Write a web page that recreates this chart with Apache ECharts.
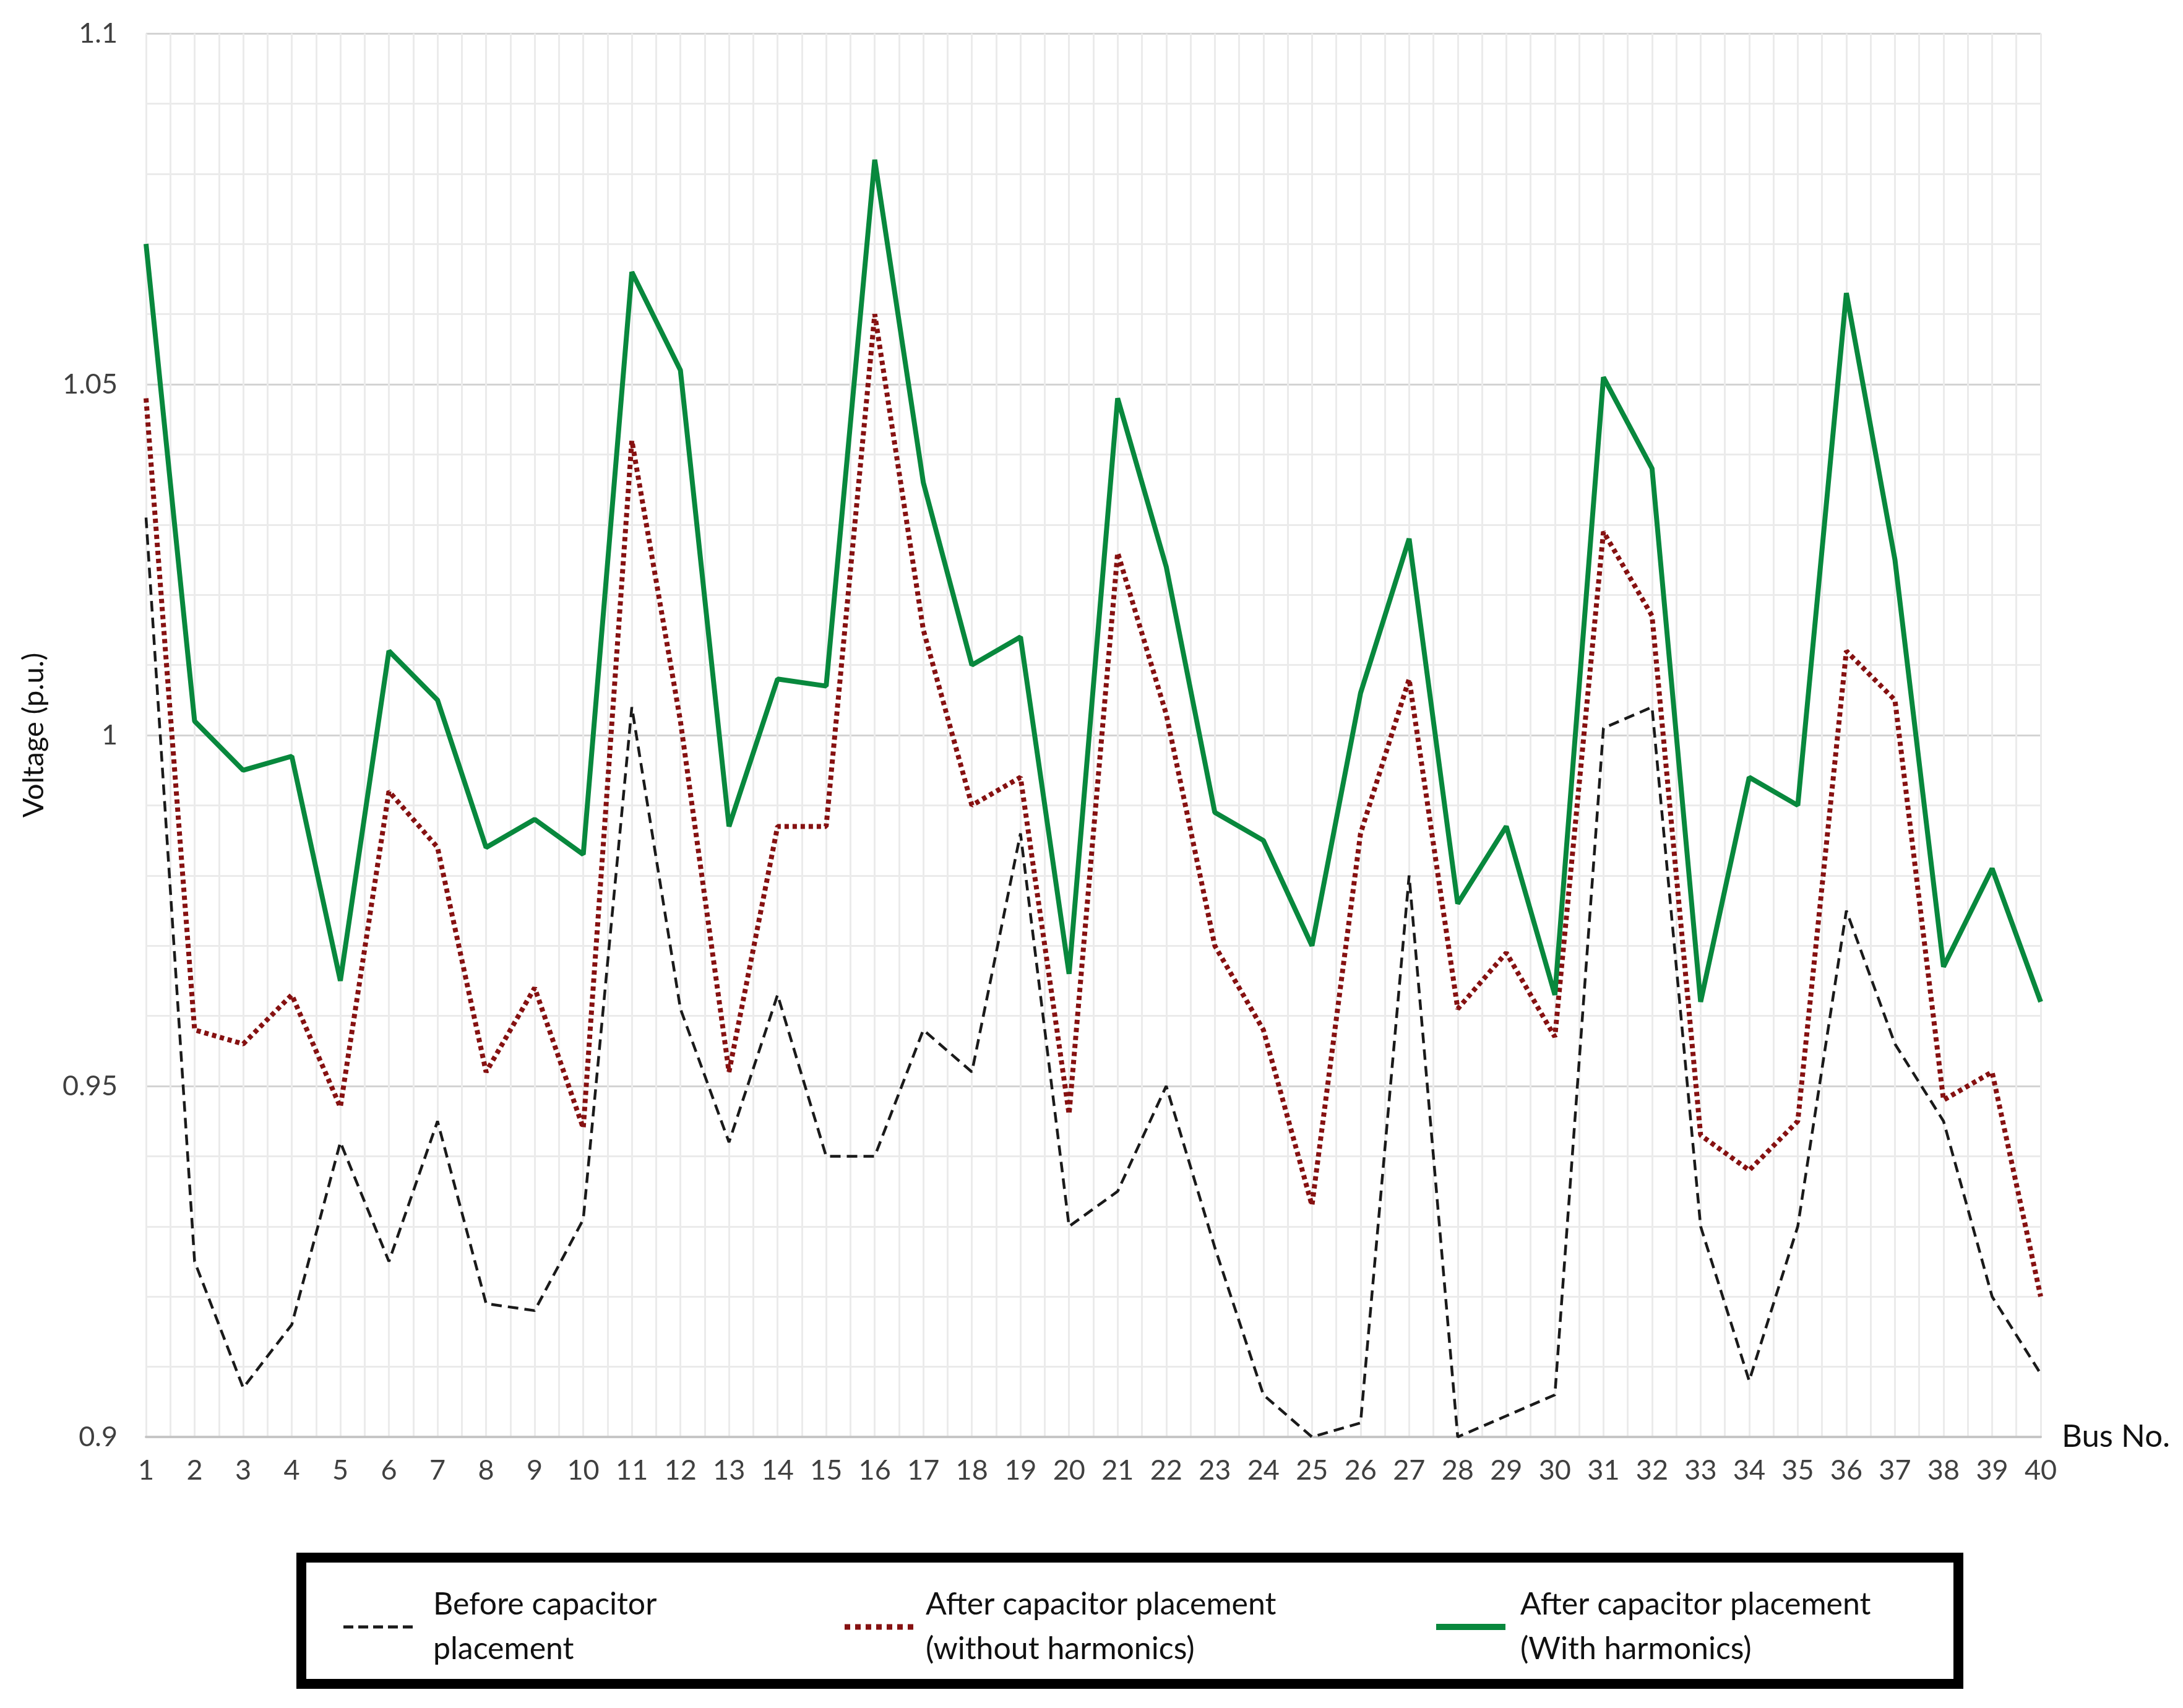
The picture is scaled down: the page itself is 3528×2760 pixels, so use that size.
<!DOCTYPE html>
<html>
<head>
<meta charset="utf-8">
<script src="https://cdn.jsdelivr.net/npm/echarts@6/dist/echarts.min.js"></script>
<style>
  html, body { margin: 0; padding: 0; background: #fff; }
  #chart { width: 3528px; height: 2760px; }
</style>
</head>
<body>
<div id="chart"></div>
<script>
// bus numbers on the x axis
var busNo = [1, 2, 3, 4, 5, 6, 7, 8, 9, 10,
  11, 12, 13, 14, 15, 16, 17, 18, 19, 20,
  21, 22, 23, 24, 25, 26, 27, 28, 29, 30,
  31, 32, 33, 34, 35, 36, 37, 38, 39, 40];

// voltage (p.u.)
var beforeCap = [1.031, 0.925, 0.907, 0.916, 0.942, 0.925, 0.945, 0.919, 0.918, 0.931,
  1.004, 0.961, 0.942, 0.963, 0.940, 0.940, 0.958, 0.952, 0.986, 0.930,
  0.935, 0.950, 0.927, 0.906, 0.900, 0.902, 0.980, 0.900, 0.903, 0.906,
  1.001, 1.004, 0.930, 0.908, 0.930, 0.975, 0.956, 0.945, 0.920, 0.909];
var afterNoHarm = [1.048, 0.958, 0.956, 0.963, 0.947, 0.992, 0.984, 0.952, 0.964, 0.944,
  1.042, 1.002, 0.952, 0.987, 0.987, 1.060, 1.015, 0.990, 0.994, 0.946,
  1.026, 1.003, 0.970, 0.958, 0.933, 0.986, 1.008, 0.961, 0.969, 0.957,
  1.029, 1.017, 0.943, 0.938, 0.945, 1.012, 1.005, 0.948, 0.952, 0.920];
var afterHarm = [1.070, 1.002, 0.995, 0.997, 0.965, 1.012, 1.005, 0.984, 0.988, 0.983,
  1.066, 1.052, 0.987, 1.008, 1.007, 1.082, 1.036, 1.010, 1.014, 0.966,
  1.048, 1.024, 0.989, 0.985, 0.970, 1.006, 1.028, 0.976, 0.987, 0.963,
  1.051, 1.038, 0.962, 0.994, 0.990, 1.063, 1.025, 0.967, 0.981, 0.962];

var seriesNames = ['Before capacitor placement',
  'After capacitor placement (without harmonics)',
  'After capacitor placement (With harmonics)'];
// legend text is broken over two lines like in the picture
var legendText = ['Before capacitor\nplacement',
  'After capacitor placement\n(without harmonics)',
  'After capacitor placement\n(With harmonics)'];
var colors = ['#1a1a1a', '#861111', '#08883d'];

var fontName = 'Lato';
var gridColor = '#ebebeb';

// little legend swatches: dashes, dots, solid bar
var legendIcons = [
  'path://M0,0h16v5h-16z M24,0h16v5h-16z M48,0h16v5h-16z M72,0h16v5h-16z M96,0h16v5h-16z',
  'path://M0,0h9v9h-9z M17,0h9v9h-9z M34,0h9v9h-9z M51,0h9v9h-9z M68,0h9v9h-9z M85,0h9v9h-9z M102,0h9v9h-9z',
  'path://M0,0h112v10h-112z'
];
var iconHeight = [5, 9, 10];
var legendLeft = [550, 1360, 2316];
var legendPad = [28, 15, 19];

function pairs(vals) {
  return busNo.map(function (b, i) { return [b, vals[i]]; });
}

function makeLegend(i) {
  return {
    left: legendLeft[i],
    top: 2552,
    orient: 'horizontal',
    data: [{ name: seriesNames[i], icon: legendIcons[i] }],
    itemWidth: i == 1 ? 111 : 112,
    itemHeight: iconHeight[i],
    selectedMode: false,
    itemStyle: { color: colors[i], borderWidth: 0 },
    formatter: function (name) { return legendText[seriesNames.indexOf(name)]; },
    textStyle: {
      fontFamily: fontName,
      fontSize: 50,
      lineHeight: 72,
      color: '#111',
      padding: [0, 0, 0, legendPad[i]]
    }
  };
}

var chart = echarts.init(document.getElementById('chart'), null, { renderer: 'canvas' });

var option = {
  backgroundColor: '#fff',
  animation: false,
  grid: { left: 236, right: 230, top: 54, bottom: 438 },
  legend: [makeLegend(0), makeLegend(1), makeLegend(2)],
  xAxis: {
    type: 'value',
    min: 1,
    max: 40,
    interval: 1,
    name: 'Bus No.',
    nameLocation: 'end',
    nameGap: 34,
    nameTextStyle: { fontFamily: fontName, fontSize: 51, color: '#111', align: 'left', padding: [0, 0, 40, 0] },
    axisLine: { show: true, lineStyle: { color: '#c6c6c6', width: 4 } },
    axisTick: { show: false },
    axisLabel: { fontFamily: fontName, fontSize: 45, color: '#404040', margin: 32 },
    splitLine: { show: true, lineStyle: { color: gridColor, width: 3 } },
    minorTick: { show: false, splitNumber: 2 },
    minorSplitLine: { show: true, lineStyle: { color: gridColor, width: 3 } }
  },
  yAxis: {
    type: 'value',
    min: 0.9,
    max: 1.1,
    interval: 0.05,
    name: 'Voltage (p.u.)',
    nameLocation: 'middle',
    nameGap: 158,
    nameTextStyle: { fontFamily: fontName, fontSize: 47, color: '#111' },
    axisLine: { show: false },
    axisTick: { show: false },
    axisLabel: { fontFamily: fontName, fontSize: 45, color: '#404040', margin: 46 },
    splitLine: { show: true, lineStyle: { color: '#d3d3d3', width: 3 } },
    minorTick: { show: false, splitNumber: 5 },
    minorSplitLine: { show: true, lineStyle: { color: gridColor, width: 3 } }
  },
  series: [
    {
      name: seriesNames[0],
      type: 'line',
      data: pairs(beforeCap),
      symbol: 'none',
      z: 3,
      itemStyle: { color: colors[0] },
      lineStyle: { color: colors[0], width: 4.5, type: [17, 10] }
    },
    {
      name: seriesNames[1],
      type: 'line',
      data: pairs(afterNoHarm),
      symbol: 'none',
      z: 4,
      itemStyle: { color: colors[1] },
      lineStyle: { color: colors[1], width: 8, type: [7, 6] }
    },
    {
      name: seriesNames[2],
      type: 'line',
      data: pairs(afterHarm),
      symbol: 'none',
      z: 5,
      itemStyle: { color: colors[2] },
      lineStyle: { color: colors[2], width: 8 }
    }
  ],
  graphic: [
    {
      type: 'rect',
      shape: { x: 487, y: 2517, width: 2678, height: 204 },
      style: { fill: 'none', stroke: '#000', lineWidth: 16 },
      z: 1
    }
  ]
};

chart.setOption(option);
</script>
</body>
</html>
